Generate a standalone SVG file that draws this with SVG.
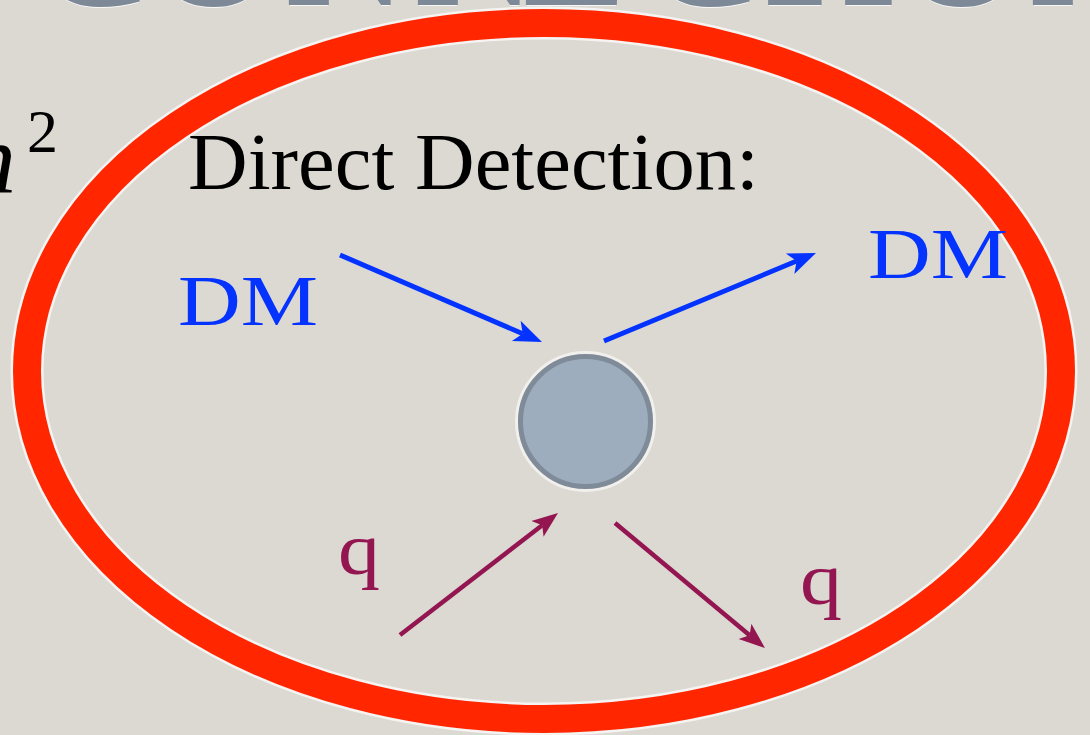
<svg xmlns="http://www.w3.org/2000/svg" width="1090" height="735" viewBox="0 0 1090 735">
  <style>
    .title { font-family: "Liberation Serif", serif; font-size: 170px; fill: #7e8998; }
    .title-sh { font-family: "Liberation Serif", serif; font-size: 170px; fill: #ffffff; opacity: 0.8; }
    .serif { font-family: "Liberation Serif", "DejaVu Serif", serif; }
    .blue { fill: #0433ff; }
    .purple { fill: #941651; }
    .lblue { stroke: #0433ff; stroke-width: 5; fill: none; }
    .lpurple { stroke: #941651; stroke-width: 4.5; fill: none; }
  </style>
  <defs>
    <marker id="ah-blue" markerUnits="userSpaceOnUse" markerWidth="30" markerHeight="26" viewBox="0 -13 30 26" refX="7" refY="0" orient="auto">
      <path d="M0,-11 L28,0 L0,11 L7,0 Z" fill="#0433ff"/>
    </marker>
    <marker id="ah-purple" markerUnits="userSpaceOnUse" markerWidth="28" markerHeight="24" viewBox="0 -12 28 24" refX="6" refY="0" orient="auto">
      <path d="M0,-10 L26,0 L0,10 L6,0 Z" fill="#941651"/>
    </marker>
  </defs>

  <rect x="0" y="0" width="1090" height="735" fill="#dcd9d3"/>

  <g id="title">
    <text class="title-sh" y="5.5" x="35 152 285 414 522 645 743 840 900 1029">CONNECTION</text>
    <text class="title" y="4" x="35 152 285 414 522 645 743 840 900 1029" stroke="#7e8998" stroke-width="2">CONNECTION</text>
  </g>

  <g id="prev-formula">
    <text class="serif" x="-34" y="192" font-size="100" font-style="italic" fill="#000">n</text>
    <text class="serif" x="27" y="152" font-size="62" fill="#000">2</text>
  </g>

  <g id="ring">
    <ellipse cx="544" cy="371" rx="517" ry="348" fill="none" stroke="#ffffff" stroke-opacity="0.7" stroke-width="33"/>
    <ellipse cx="544" cy="371" rx="517" ry="348" fill="none" stroke="#ff2600" stroke-width="28"/>
  </g>

  <g id="heading">
    <text class="serif" x="188" y="189" font-size="80" fill="#000" textLength="571" lengthAdjust="spacingAndGlyphs">Direct Detection:</text>
  </g>

  <g id="vertex">
    <circle cx="585.5" cy="421.5" r="69" fill="none" stroke="#ffffff" stroke-opacity="0.6" stroke-width="3"/>
    <circle cx="585.5" cy="421.5" r="65" fill="#9dadbd" stroke="#7f8b98" stroke-width="5"/>
  </g>

  <g id="dm-in">
    <text class="serif blue" x="178" y="325" font-size="72" textLength="140" lengthAdjust="spacingAndGlyphs">DM</text>
  </g>
  <g id="dm-out">
    <text class="serif blue" x="868" y="278" font-size="72" textLength="140" lengthAdjust="spacingAndGlyphs">DM</text>
  </g>
  <g id="q-in">
    <text class="serif purple" x="338" y="574" font-size="74" textLength="42" lengthAdjust="spacingAndGlyphs">q</text>
  </g>
  <g id="q-out">
    <text class="serif purple" x="800" y="604" font-size="74" textLength="42" lengthAdjust="spacingAndGlyphs">q</text>
  </g>

  <g id="connectors">
    <line class="lblue" x1="340" y1="255" x2="522.7" y2="333.7" marker-end="url(#ah-blue)"/>
    <line class="lblue" x1="604" y1="341" x2="796.6" y2="261.05" marker-end="url(#ah-blue)"/>
    <line class="lpurple" x1="400" y1="635" x2="542.2" y2="525.2" marker-end="url(#ah-purple)"/>
    <line class="lpurple" x1="615" y1="523" x2="749.6" y2="635.2" marker-end="url(#ah-purple)"/>
  </g>
</svg>
